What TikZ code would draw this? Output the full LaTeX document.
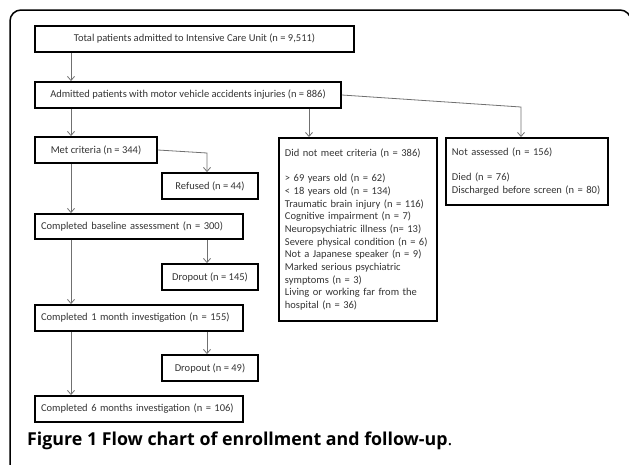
\documentclass[tikz,border=0pt]{standalone}
\usepackage{fontspec}
\setmainfont{Carlito}
\newfontfamily\capfont{Open Sans}
\usetikzlibrary{arrows.meta}
\definecolor{txtgray}{HTML}{333333}
\definecolor{lingray}{HTML}{707070}
\tikzset{
  x=1pt, y=-1pt,
  boxc/.style={draw=black, line width=1.9pt, inner sep=0pt, minimum height=26pt,
    font=\fontsize{10.5}{12.7}\selectfont, text=txtgray, align=center},
  boxl/.style={boxc, align=left, text width=#1, inner xsep=6pt},
  boxtall/.style={draw=black, line width=1.9pt, inner xsep=6pt, inner ysep=6pt,
    font=\fontsize{10.5}{12.7}\selectfont, text=txtgray, align=left, anchor=north west},
  conn/.style={draw=lingray, line width=0.8pt, -{Straight Barb[length=4pt,width=7pt]}},
  plainconn/.style={draw=lingray, line width=0.8pt}
}
\begin{document}
\begin{tikzpicture}
\useasboundingbox (0,0) rectangle (629,464);
\begin{scope}
\clip (0,0) rectangle (629,464);
\draw[line width=1.5pt, rounded corners=11pt] (10,490) -- (10,10) -- (631,10) -- (631,490);
\end{scope}
% boxes
\node[boxc, minimum width=319pt] (b1) at (194.5,39) {Total patients admitted to Intensive Care Unit (n = 9,511)};
\node[boxc, minimum width=306pt] (b2) at (188,95) {Admitted patients with motor vehicle accidents injuries (n = 886)};
\node[boxc, minimum width=122pt] (met) at (96,150) {Met criteria (n = 344)};
\node[boxc, minimum width=96pt] (ref) at (210,186) {Refused (n = 44)};
\node[boxl=196pt, minimum height=25pt] (base) at (139,226.5) {Completed baseline assessment (n = 300)};
\node[boxc, minimum width=96pt] (d145) at (210,277) {Dropout (n = 145)};
\node[boxl=196pt] (m1) at (139,318) {Completed 1 month investigation (n = 155)};
\node[boxc, minimum width=96pt] (d49) at (210,368) {Dropout (n = 49)};
\node[boxl=196pt] (m6) at (139,409) {Completed 6 months investigation (n = 106)};
\node[boxtall, text width=146pt, minimum height=183pt] (dnm) at (278,137) {Did not meet criteria (n = 386)\\[12.7pt]
> 69 years old (n = 62)\\
< 18 years old (n = 134)\\
Traumatic brain injury (n = 116)\\
Cognitive impairment (n = 7)\\
Neuropsychiatric illness (n= 13)\\
Severe physical condition (n = 6)\\
Not a Japanese speaker (n = 9)\\
Marked serious psychiatric\\
symptoms (n = 3)\\
Living or working far from the\\
hospital (n = 36)};
\node[boxtall, text width=150pt, minimum height=67pt] (na) at (445,137) {Not assessed (n = 156)\\[12.7pt]
Died (n = 76)\\
Discharged before screen (n = 80)};
% connector helpers
\coordinate (xL) at (71,0);
\coordinate (xR) at (207,0);
\coordinate (xM) at (309,0);
\coordinate (k1) at (521,107);
\coordinate (k2) at (207,153);
% connectors
\draw[conn] (b1.south -| xL) -- (b2.north -| xL);
\draw[conn] (b2.south -| xL) -- (met.north -| xL);
\draw[conn] (b2.south -| xM) -- (dnm.north -| xM);
\draw[conn] (b2.east) -- (k1) -- (k1 |- na.north);
\draw[conn] (met.south -| xL) -- (base.north -| xL);
\draw[conn] (met.east) -- (k2) -- (k2 |- ref.north);
\draw[conn] (base.south -| xL) -- (m1.north -| xL);
\draw[conn] (base.south -| xR) -- (d145.north -| xR);
\draw[conn] (m1.south -| xL) -- (m6.north -| xL);
\draw[conn] (m1.south -| xR) -- (d49.north -| xR);
% caption
\node[anchor=base west, inner sep=0pt, font=\capfont\fontsize{17.8}{20}\selectfont] (cap) at (27,445) {\textbf{Figure 1 Flow chart of enrollment and follow-up}.};
\end{tikzpicture}
\end{document}
